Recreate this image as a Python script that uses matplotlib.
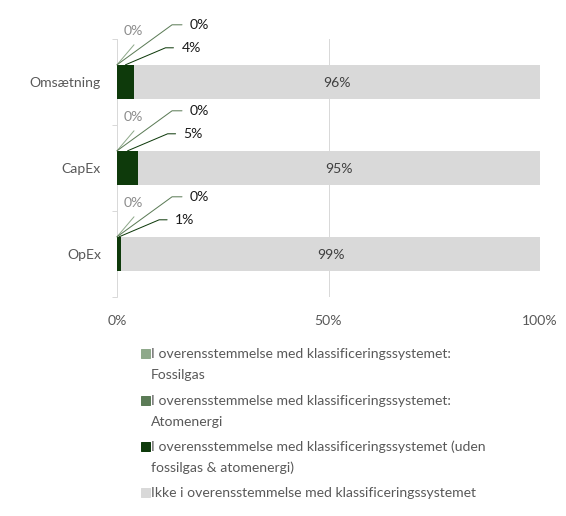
import numpy as np
import matplotlib.pyplot as plt
from matplotlib.patches import Rectangle

# --- data ---
categories = ["Omsætning", "CapEx", "OpEx"]
fossilgas = [0, 0, 0]
atomenergi = [0, 0, 0]
aligned = [4, 5, 1]
not_aligned = [96, 95, 99]

series_names = [
    "I overensstemmelse med klassificeringssystemet:\nFossilgas",
    "I overensstemmelse med klassificeringssystemet:\nAtomenergi",
    "I overensstemmelse med klassificeringssystemet (uden\nfossilgas & atomenergi)",
    "Ikke i overensstemmelse med klassificeringssystemet",
]
colors = ["#8fa98b", "#5b7b56", "#0e3a0b", "#d9d9d9"]
xticks = [0, 50, 100]
xticklabels = ["0%", "50%", "100%"]

plt.rcParams['font.family'] = ['Lato', 'DejaVu Sans']
FS = 14
TXT = "#595959"

W, H = 566, 516
fig = plt.figure(figsize=(W / 72, H / 72), dpi=72)
ax = fig.add_axes([117 / W, 1 - 297 / H, (540 - 117) / W, (297 - 39) / H])

y = np.arange(len(categories))
bh = 0.4
series = [fossilgas, atomenergi, aligned, not_aligned]
left = np.zeros(len(categories))
for vals, c in zip(series, colors):
    ax.barh(y, vals, left=left, height=bh, color=c, zorder=3)
    left += np.array(vals)

# label inside the big grey segment
for i, v in enumerate(not_aligned):
    start = fossilgas[i] + atomenergi[i] + aligned[i]
    ax.text(start + v / 2, i, f"{v}%", ha="center", va="center_baseline",
            fontsize=FS, color="#404040", zorder=4)

# leader-line labels for small segments
for i in range(len(categories)):
    top = i - bh / 2
    # fossilgas: short slanted line, label above it
    ax.annotate("", xy=(0, top), xytext=(17, 20), textcoords="offset points",
                arrowprops=dict(arrowstyle="-", color=colors[0], lw=1,
                                shrinkA=0, shrinkB=0))
    ax.annotate(f"{fossilgas[i]}%", xy=(0, top), xytext=(16, 35),
                textcoords="offset points", ha="center", va="center_baseline",
                fontsize=FS, color="#8c8c8c")
    # atomenergi
    ax.annotate(f"{atomenergi[i]}%", xy=(fossilgas[i], top), xytext=(73, 41),
                textcoords="offset points", ha="left", va="center_baseline",
                fontsize=FS, color="#1a1a1a",
                arrowprops=dict(arrowstyle="-", color=colors[1], lw=1,
                                shrinkA=6, shrinkB=0, relpos=(0, 0.5),
                                connectionstyle="angle,angleA=0,angleB=36,rad=0"))
    # aligned
    mid = fossilgas[i] + atomenergi[i] + aligned[i] / 2
    ax.annotate(f"{aligned[i]}%", xy=(mid, top), xytext=(56, 18),
                textcoords="offset points", ha="left", va="center_baseline",
                fontsize=FS, color="#1a1a1a",
                arrowprops=dict(arrowstyle="-", color=colors[2], lw=1,
                                shrinkA=6, shrinkB=0, relpos=(0, 0.5),
                                connectionstyle="angle,angleA=0,angleB=23,rad=0"))

ax.set_xlim(0, 100)
ax.set_ylim(len(categories) - 0.5, -0.5)
ax.set_xticks(xticks)
ax.set_xticklabels(xticklabels, fontsize=FS, color=TXT)
ax.set_yticks(y)
ax.set_yticklabels(categories, fontsize=FS, color=TXT)
ax.set_yticks(np.arange(len(categories) + 1) - 0.5, minor=True)
ax.tick_params(axis="y", which="major", length=0, pad=16)
ax.tick_params(axis="y", which="minor", length=5, color="#d9d9d9", width=1)
ax.tick_params(axis="x", length=0, pad=18)
ax.grid(axis="x", color="#d9d9d9", lw=1, zorder=0)
for s in ["top", "right", "bottom"]:
    ax.spines[s].set_visible(False)
ax.spines["left"].set_color("#d9d9d9")

# legend drawn by hand
legend_y = [353, 400, 446, 492]
for name, c, ly in zip(series_names, colors, legend_y):
    fig.patches.append(Rectangle((141 / W, 1 - (ly + 4.5) / H), 9 / W, 9 / H,
                                 transform=fig.transFigure, color=c))
    for k, line in enumerate(name.split("\n")):
        fig.text(151 / W, 1 - (ly + 21 * k) / H, line, ha="left",
                 va="center_baseline", fontsize=FS, color=TXT)

fig.savefig("out.png", dpi=72)
